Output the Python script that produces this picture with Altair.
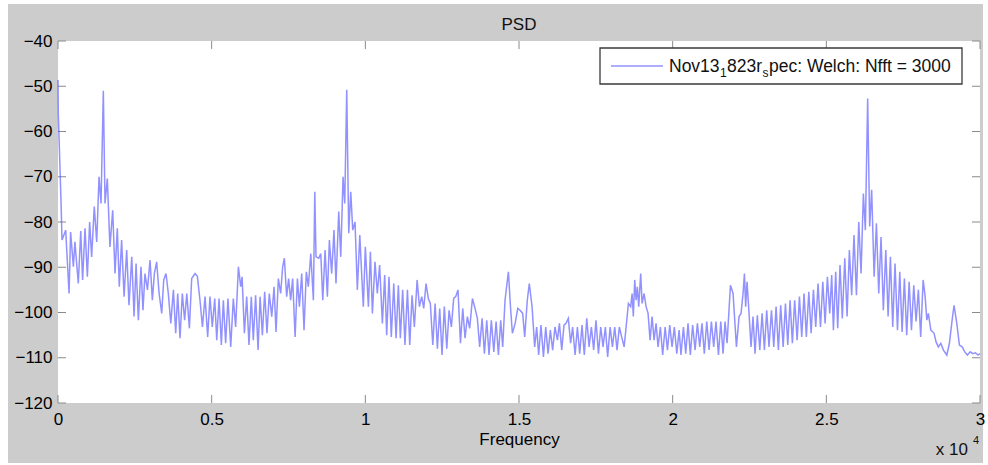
import altair as alt
import pandas as pd

# ---------------- data ----------------
freq_a = [0, 10, 100, 130, 250, 360, 410, 500, 550, 660, 740, 800, 880, 955, 1030, 1095, 1180, 1260, 1335, 1400,
          1475, 1530, 1605, 1690, 1780, 1855, 1930, 1995, 2070, 2150, 2235, 2310, 2400, 2475, 2540, 2615, 2700, 2765,
          2830, 2910, 2995, 3070, 3135, 3210, 3290, 3375, 3440, 3515, 3590, 3670, 3755, 3830, 3895, 3970, 4045, 4120,
          4190, 4275, 4350, 4460, 4535, 4620, 4700, 4785, 4870, 4945, 5020]
psd_a = [-48.6, -56, -75.9, -84, -81.8, -95.8, -82.2, -89.9, -84.4, -93.6, -82, -92.8, -81.4, -92.1, -80, -87.7,
         -76.6, -84.4, -70, -75.9, -51, -75.9, -70.4, -85.5, -77.4, -91.4, -81.4, -94.3, -84, -96.5, -86.2, -98.4,
         -87.7, -100.9, -89.2, -101.7, -89.9, -99.5, -91.4, -95, -88.4, -97.3, -91.4, -88.8, -95.8, -100.2, -92.8,
         -91.4, -95.8, -102.4, -95, -104.6, -95.8, -105.7, -95.8, -101.7, -95.8, -103.5, -92.5, -91.4, -92, -97.3,
         -103.2, -96.5, -105.4, -96.5, -103.2]

freq_b = [5100, 5165, 5240, 5315, 5380, 5455, 5530, 5620, 5705, 5780, 5870, 5945, 5990, 6065, 6140, 6215, 6290, 6355,
          6430, 6510, 6575, 6650, 6725, 6800, 6875, 6955, 7030, 7095, 7170, 7245, 7310, 7365, 7440, 7505, 7570, 7635,
          7715, 7790, 7855, 7930, 8005, 8080, 8145, 8225, 8310, 8355, 8395, 8485, 8550, 8615, 8690, 8765, 8830, 8905,
          8980, 9045, 9135, 9200, 9275, 9330, 9395, 9460, 9525, 9590, 9665, 9740, 9820, 9885, 9935, 10000]
psd_b = [-96.9, -106.1, -96.9, -107.2, -97.3, -106.8, -96.9, -107.6, -96.9, -103.2, -89.9, -94.3, -92.1, -104.6,
         -96.5, -107.2, -96.5, -106.1, -96.2, -108.3, -96.5, -105, -95.4, -104.6, -95.8, -100.9, -94.3, -104.3, -92.5,
         -95.8, -89.9, -88, -96.5, -92.5, -97.3, -92.5, -105.4, -92.5, -98.7, -91.4, -103.9, -91, -94.3, -87, -97.3,
         -73.3, -87.7, -88, -87, -97.3, -86.2, -96.5, -84, -91.4, -81.8, -93.6, -77.7, -87.7, -70, -75.9, -50.8,
         -82.5, -73.3, -81.8, -80, -95, -82.9, -92.1, -98.7, -85.5]

freq_c = [10100, 10165, 10230, 10315, 10390, 10465, 10555, 10630, 10695, 10770, 10845, 10925, 11000, 11075, 11140,
          11215, 11290, 11370, 11445, 11520, 11595, 11685, 11760, 11835, 11900, 11975, 12050, 12115, 12195, 12270,
          12345, 12420, 12495, 12570, 12650, 12725, 12800, 12875, 12940, 13015, 13095, 13170, 13245, 13320, 13395,
          13485, 13570, 13645, 13720, 13800, 13875, 13950, 14025, 14100, 14180, 14255, 14330, 14405, 14470, 14545,
          14655, 14730, 14785, 14875, 14960]
psd_c = [-98.7, -86.6, -100.2, -88.8, -95.8, -89.5, -102.4, -91.7, -105, -92.1, -105.4, -93.6, -105.7, -94, -105.7,
         -95, -107.2, -95, -107.2, -96.2, -103.2, -92.8, -98.7, -96.5, -99.1, -93.6, -96.9, -98, -107.2, -98, -108,
         -99.1, -109.4, -98.7, -108, -99.5, -103.2, -96.9, -96.5, -95, -106.8, -99.1, -105.7, -100.9, -103.5, -96.9,
         -99.1, -101.3, -107.6, -101.3, -109.1, -101.7, -109.4, -101.7, -108.7, -102, -109.4, -101.7, -107.6, -97.3,
         -91, -99.5, -104.6, -102.4, -99.1]

freq_d = [15035, 15120, 15185, 15270, 15335, 15425, 15510, 15575, 15640, 15715, 15795, 15870, 15945, 16020, 16095,
          16170, 16250, 16315, 16390, 16465, 16530, 16605, 16680, 16745, 16825, 16900, 16975, 17050, 17125, 17205,
          17280, 17355, 17430, 17505, 17585, 17660, 17735, 17810, 17885, 17965, 18040, 18115, 18190, 18265, 18340,
          18420, 18485, 18560, 18635, 18680, 18720, 18765, 18810, 18850, 18895, 18960, 19005, 19070, 19135, 19200,
          19265, 19330, 19395, 19460, 19525, 19600, 19675, 19755, 19830, 19905, 19980, 20055, 20135, 20210]
psd_d = [-99.5, -100.2, -105.4, -97.3, -93.6, -98.7, -107.6, -103.2, -109.4, -102.8, -109.8, -103.2, -109.1, -103.9,
         -108.3, -103.2, -106.1, -102.4, -108.3, -102.8, -102.4, -101.3, -106.8, -103.2, -109.4, -103.2, -109.1,
         -102.8, -109.4, -101.3, -107.6, -103.2, -108.3, -101.7, -109.1, -103.2, -107.6, -103.2, -109.8, -103.2,
         -107.6, -103.2, -108.3, -103.2, -105.4, -107.6, -103.2, -98, -98.7, -95.8, -100.9, -92.8, -97.3, -94.3,
         -98.7, -91.4, -98, -95.8, -98.7, -100.2, -106.1, -100.9, -106.1, -102.4, -107.6, -103.2, -109.4, -103.2,
         -108.3, -102.8, -107.6, -103.2, -109.1, -103.9]

freq_e = [20270, 20350, 20425, 20500, 20575, 20650, 20730, 20805, 20880, 20955, 21030, 21110, 21185, 21260, 21335,
          21410, 21490, 21565, 21640, 21705, 21770, 21880, 21965, 22075, 22160, 22225, 22290, 22335, 22375, 22420,
          22485, 22550, 22615, 22680, 22755, 22835, 22910, 22985, 23060, 23135, 23215, 23290, 23365, 23440, 23515,
          23595, 23670, 23745, 23820, 23895, 23970, 24050, 24125, 24200, 24275, 24350, 24430, 24505, 24580, 24655,
          24730, 24810, 24885, 24960, 25035, 25110]
psd_e = [-109.4, -103.2, -109.1, -102.4, -109.4, -102.8, -108.3, -102.4, -107.6, -102.4, -109.1, -102, -108.3, -102,
         -107.6, -102, -109.4, -102, -109.1, -102, -106.8, -94, -95.8, -107.6, -100.9, -100.2, -95.8, -91.4, -98.7,
         -93.2, -100.2, -107.6, -100.9, -109.1, -100.6, -108.3, -100.2, -108.3, -99.5, -107.6, -99.5, -107.6, -98.7,
         -108.3, -98.4, -107.6, -98, -107.2, -97.3, -106.8, -97.3, -106.1, -96.5, -105.4, -95.8, -105.4, -95.4,
         -104.6, -95, -103.2, -93.6, -103.2, -93.2, -102.4, -92.1, -100.2]

freq_f = [25175, 25230, 25305, 25370, 25445, 25520, 25600, 25675, 25750, 25825, 25900, 25980, 26055, 26130, 26205,
          26270, 26345, 26410, 26475, 26555, 26630, 26705, 26780, 26855, 26935, 27010, 27085, 27160, 27235, 27315,
          27390, 27465, 27540, 27615, 27695, 27770, 27845, 27920, 27995, 28070, 28150, 28215, 28270, 28320, 28400,
          28505, 28570, 28645, 28725, 28810, 28920, 29005, 29080, 29155, 29245, 29330, 29420, 29505, 29590, 29680,
          29765, 29850, 29940, 30000]
psd_f = [-91.7, -103.9, -91, -103.5, -89.5, -101.3, -88, -100.9, -86.2, -96.2, -82.9, -96.2, -80, -91.4, -73.7,
         -81.8, -52.7, -81, -72.9, -92.1, -80.3, -95.8, -83.3, -99.5, -86.2, -100.9, -87.7, -103.2, -89.2, -103.9,
         -91, -104.3, -92.5, -105, -93.2, -103.9, -94, -102, -95, -105.4, -92.8, -96.5, -101.7, -100.2, -103.9,
         -104.6, -106.5, -107.6, -106.8, -108.3, -109.4, -106.8, -102.4, -98.4, -102.4, -107.2, -107.6, -108.7,
         -109.4, -108.7, -109.1, -108.9, -109.4, -109.1]

X_TICKS = [0, 5000, 10000, 15000, 20000, 25000, 30000]
Y_TICKS = [-120, -110, -100, -90, -80, -70, -60, -50, -40]

freq = freq_a + freq_b + freq_c + freq_d + freq_e + freq_f
psd = psd_a + psd_b + psd_c + psd_d + psd_e + psd_f
df = pd.DataFrame({"freq": freq, "psd": psd})

# ---------------- layout ----------------
W, H = 922, 362
FONT = "Liberation Sans"
xs = alt.Scale(domain=[0, 30000], nice=False, zero=False)
ys = alt.Scale(domain=[-120, -40], nice=False, zero=False)
one = pd.DataFrame({"k": [0]})

x_axis = alt.Axis(values=X_TICKS, labelExpr="datum.value / 10000", title="Frequency",
                  domain=False, ticks=False, tickSize=0, grid=False, labelFlush=False,
                  labelFontSize=17, labelFont=FONT, labelColor="#000", labelPadding=8,
                  titleFontSize=17, titleFont=FONT, titleColor="#000", titleFontWeight="normal",
                  titlePadding=4, zindex=2)
y_axis = alt.Axis(values=Y_TICKS, title=None, domain=False, ticks=False, tickSize=0, grid=False,
                  labelFontSize=17, labelFont=FONT, labelColor="#000", labelPadding=6,
                  labelFlush=False, labelOverlap=False, zindex=2)

frame = alt.Chart(one).mark_rect(color="#cccccc").encode(
    x=alt.value(-50), x2=alt.value(925), y=alt.value(-37), y2=alt.value(422))
plotbg = alt.Chart(one).mark_rect(color="white").encode(
    x=alt.value(0), x2=alt.value(W), y=alt.value(0), y2=alt.value(H))

ydf = pd.DataFrame({"v": Y_TICKS})
xdf = pd.DataFrame({"v": X_TICKS})
tick_style = dict(color="#8a8a8a", strokeWidth=1)
tl = alt.Chart(ydf).mark_rule(**tick_style).encode(
    y=alt.Y("v:Q", scale=ys, axis=y_axis), x=alt.value(0), x2=alt.value(8))
tr = alt.Chart(ydf).mark_rule(**tick_style).encode(
    y=alt.Y("v:Q", scale=ys, axis=y_axis), x=alt.value(W - 8), x2=alt.value(W))
tb = alt.Chart(xdf).mark_rule(**tick_style).encode(
    x=alt.X("v:Q", scale=xs, axis=x_axis), y=alt.value(H - 8), y2=alt.value(H))
tt = alt.Chart(xdf).mark_rule(**tick_style).encode(
    x=alt.X("v:Q", scale=xs, axis=x_axis), y=alt.value(0), y2=alt.value(8))

line = alt.Chart(df).mark_line(color="#4d4dff", opacity=0.62, strokeWidth=1.5).encode(
    x=alt.X("freq:Q", scale=xs, axis=x_axis),
    y=alt.Y("psd:Q", scale=ys, axis=y_axis),
)

# legend box (drawn by hand to allow TeX-like subscripts)
leg_box = alt.Chart(one).mark_rect(fill="white", stroke="#3a3a3a", strokeWidth=1.3).encode(
    x=alt.value(542), x2=alt.value(904), y=alt.value(7), y2=alt.value(43))
leg_sw = alt.Chart(one).mark_rule(color="#4d4dff", opacity=0.62, strokeWidth=1.5).encode(
    x=alt.value(553), x2=alt.value(605), y=alt.value(25))


def txt(s, x, y, size=17.5, align="left"):
    return alt.Chart(one).mark_text(text=s, font=FONT, fontSize=size, color="#111", align=align,
                                    baseline="alphabetic").encode(x=alt.value(x), y=alt.value(y))


leg_txt = [
    txt("Nov13", 611, 31),
    txt("1", 662, 36, 12),
    txt("823r", 669, 31),
    txt("s", 704.5, 36, 12),
    txt("pec: Welch: Nfft = 3000", 711, 31),
]
exp_txt = [txt("x 10", 910, 414, 17, "right"), txt("4", 915, 403, 11)]
title_txt = txt("PSD", W / 2, -11, 17, "center")

chart = alt.layer(frame, plotbg, tl, tr, tb, tt, line, leg_box, leg_sw, *leg_txt, *exp_txt, title_txt).properties(
    width=W, height=H,
    padding={"left": 58, "top": 41, "right": 8, "bottom": 62},
    autosize=alt.AutoSizeParams(type="none"),
).configure_view(stroke="#404040", strokeWidth=1.5).configure(background="white")

chart.save("out.html", embed_options={"renderer": "svg", "actions": False})
